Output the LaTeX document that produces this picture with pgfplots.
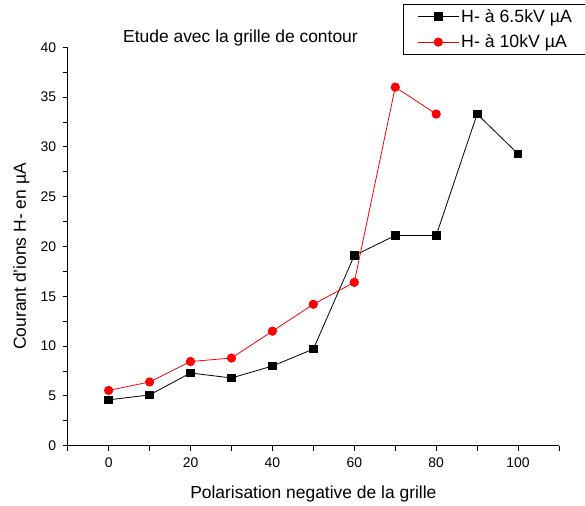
\documentclass[border=0pt]{standalone}
\usepackage{fontspec}
\setmainfont{Liberation Sans}
\usepackage{pgfplots}
\pgfplotsset{compat=1.18}

\begin{document}
\begin{tikzpicture}
\useasboundingbox (-67.7bp,-60.3bp) rectangle (517.3bp,445.7bp);
\begin{axis}[
    scale only axis,
    width=491.3bp, height=398.4bp,
    xmin=-10, xmax=110,
    ymin=0, ymax=40,
    axis lines*=left,
    axis line style={line width=0.9bp},
    tick align=outside,
    tick style={line width=0.9bp, black},
    major tick length=5bp,
    minor tick length=5bp,
    xtick={0,20,...,100},
    minor xtick={-10,10,...,110},
    ytick={0,5,...,40},
    minor ytick={2.5,7.5,...,37.5},
    /pgf/number format/assume math mode=true,
    tick label style={font=\fontsize{14}{16}\selectfont},
    xticklabel style={yshift=-4bp},
    yticklabel style={xshift=-3bp},
    xlabel={Polarisation negative de la grille},
    ylabel={Courant d'ions H- en µA},
    label style={font=\fontsize{17.5}{20}\selectfont},
    xlabel style={at={(axis description cs:0.5,-0.132)}, anchor=base},
    ylabel style={at={(axis description cs:-0.0849,0.475)}, anchor=base},
    clip=false,
    legend style={
        at={(rel axis cs:0.6825,1.109)}, anchor=north west,
        draw=black, line width=0.8bp,
        font=\fontsize{17.8}{20}\selectfont,
        row sep=7bp, inner xsep=14bp, inner ysep=3bp,
        cells={anchor=west},
    },
    legend image code/.code={
        \draw[mark repeat=2, mark phase=2]
            plot coordinates {(0bp,0bp) (20.5bp,0bp) (41bp,0bp)};
    },
]
\addplot[black, line width=0.8bp, mark=square*, mark size=3.8bp,
    mark options={solid, fill=black}] coordinates {
    (0,4.6) (10,5.1) (20,7.3) (30,6.8) (40,8.0) (50,9.7)
    (60,19.1) (70,21.1) (80,21.1) (90,33.3) (100,29.3)
};
\addlegendentry{H- à 6.5kV µA}

\addplot[red, line width=0.8bp, mark=*, mark size=4.2bp,
    mark options={solid, fill=red, draw=red}] coordinates {
    (0,5.55) (10,6.4) (20,8.45) (30,8.8) (40,11.5) (50,14.2)
    (60,16.4) (70,36.0) (80,33.3)
};
\addlegendentry{H- à 10kV µA}

\node[anchor=base, font=\fontsize{17.5}{20}\selectfont]
    at (axis cs:32.2,40.46) {Etude avec la grille de contour};
\end{axis}
\end{tikzpicture}
\end{document}
